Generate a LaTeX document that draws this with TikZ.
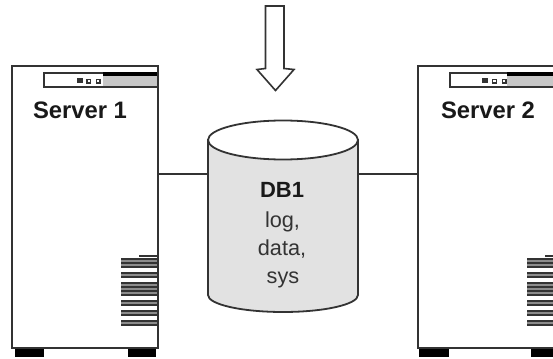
\documentclass[tikz,border=0pt]{standalone}
\usepackage{fontspec}
\setmainfont{Liberation Sans}
\definecolor{ln}{gray}{0.2}
\definecolor{pan}{gray}{0.78}
\definecolor{cyl}{gray}{0.885}
\tikzset{
  chassis/.style={draw=ln,line width=2pt},
  panel/.style={draw=ln,line width=1.5pt,fill=white},
  foot/.style={fill=black},
  vent/.style={draw=ln,line width=1.7pt},
  ventgap/.style={fill=black!45},
  link/.style={draw=ln,line width=1.4pt},
  lamp/.style={draw=ln,line width=1.4pt},
  title/.style={font=\fontsize{23.8}{24}\selectfont\bfseries,inner sep=0pt,text=black!90},
  dbtitle/.style={font=\fontsize{22}{22}\selectfont\bfseries,inner sep=0pt,text=black!90},
  dbtext/.style={font=\fontsize{21.7}{22}\selectfont,inner sep=0pt,text=black!80},
  dbouter/.style={draw=ln,line width=1.8pt,fill=cyl},
  arrowshape/.style={draw=ln,line width=1.6pt,fill=white},
}
\begin{document}
\begin{tikzpicture}[x=1pt,y=-1pt]
\useasboundingbox (0,0) rectangle (553,358);
\fill[white] (0,0) rectangle (553,358);
% Server 1
\fill[foot] (15,348) rectangle (43.5,357);
\fill[foot] (127.5,348) rectangle (156,357);
\node[chassis,fill=white,anchor=north west,minimum width=145.5pt,minimum height=281.5pt,inner sep=0pt,outer sep=0pt] (s1) at (12,66.5) {};
\draw[panel] (44,73) rectangle (157.5,87);
\fill[pan] (103,74) rectangle (157,86);
\fill[black] (103,72.5) rectangle (157,76);
\fill[ln] (77,78.5) rectangle (82.5,83.5);
\draw[lamp] (87,79.5) rectangle (90.5,83);
\draw[lamp] (96.5,79.5) rectangle (100,83);
\node[title,anchor=base] (t1) at (80,119) {Server 1};
\foreach \ya/\yb in {258/267.5,272/277.5,282/295.5,300/305.5,310/315.5,320/326}{
  \fill[ventgap] (121,\ya) rectangle (157,\yb);
}
\foreach \yy in {259,262.8,266.7,272.8,276.7,282.8,286.7,290.7,294.7,301,305,310.8,314.7,321,325}{
  \draw[vent] (121,\yy) -- (157,\yy);
}
\draw[vent] (139,256.3) -- (157,256.3);
% Server 2
\fill[foot] (419,348) rectangle (449,357);
\fill[foot] (531,348) rectangle (553,357);
\draw[chassis,fill=white] (553.9,66.5) -- (417.5,66.5) -- (417.5,348) -- (553.9,348);
\coordinate (s2w) at (417.5,174);
\draw[panel] (553.9,73) -- (450,73) -- (450,87) -- (553.9,87);
\fill[pan] (507,74) rectangle (553,86);
\fill[black] (507,72.5) rectangle (553,76);
\fill[ln] (482,78.5) rectangle (488,83.5);
\draw[lamp] (492.7,79.5) rectangle (496.2,83);
\draw[lamp] (502.5,79.5) rectangle (506,83);
\node[title,anchor=base] (t2) at (488,119) {Server 2};
\foreach \ya/\yb in {258/267.5,272/277.5,282/295.5,300/305.5,310/315.5,320/326}{
  \fill[ventgap] (527,\ya) rectangle (553,\yb);
}
\foreach \yy in {259,262.8,266.7,272.8,276.7,282.8,286.7,290.7,294.7,301,305,310.8,314.7,321,325}{
  \draw[vent] (527,\yy) -- (553,\yy);
}
\draw[vent] (545,256.3) -- (553,256.3);
% Links
\coordinate (dbw) at (208,174);
\coordinate (dbe) at (358,174);
\coordinate (s1e) at (157.5,174);
\draw[link] (s1e) -- (dbw);
\draw[link] (dbe) -- (s2w);
% Database
\draw[dbouter] (208,140) -- (208,295) arc[start angle=180,end angle=0,x radius=75,y radius=17] -- (358,140) -- cycle;
\draw[dbouter,fill=white] (283,140) ellipse[x radius=75,y radius=19.5];
\node[dbtitle,anchor=base] (db) at (282,197) {DB1};
\node[dbtext,anchor=base] (l1) at (282.5,227) {log,};
\node[dbtext,anchor=base] (l2) at (282,255) {data,};
\node[dbtext,anchor=base] (l3) at (283,283) {sys};
% Arrow
\draw[arrowshape] (265.5,6) -- (284,6) -- (284,68.5) -- (294,69.5) -- (275.5,90.5) -- (257,69.5) -- (265.5,68.5) -- cycle;
\end{tikzpicture}
\end{document}
